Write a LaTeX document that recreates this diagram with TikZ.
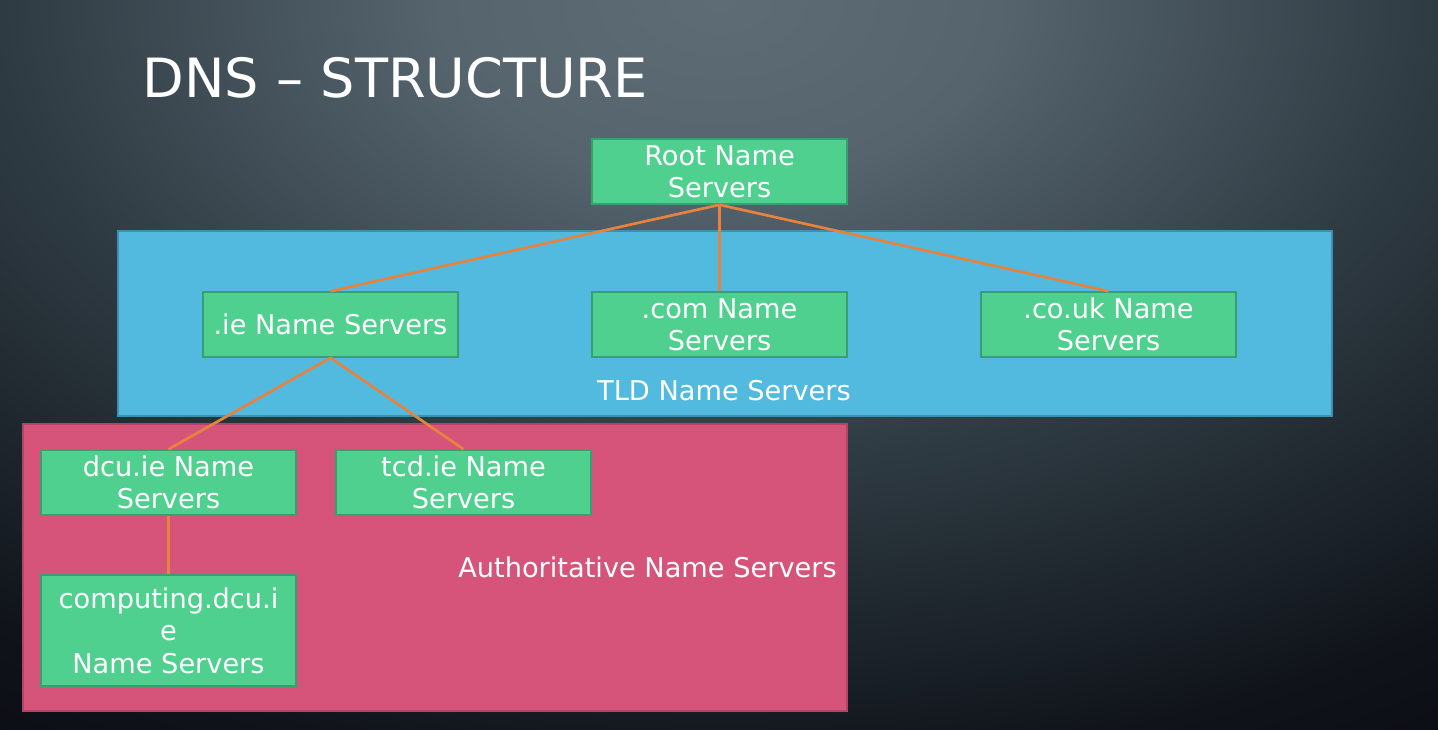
\documentclass[tikz,border=0pt]{standalone}
\usepackage{fontspec}
\setmainfont{DejaVu Sans}
\definecolor{bgA}{HTML}{5D6C75}
\definecolor{bgB}{HTML}{55646D}
\definecolor{bgC}{HTML}{2E3A42}
\definecolor{bgD}{HTML}{10141A}
\definecolor{bgE}{HTML}{0A0C12}
\definecolor{boxgreen}{HTML}{4FD08F}
\definecolor{boxgreenline}{HTML}{3A9E6E}
\definecolor{tldblue}{HTML}{53BADF}
\definecolor{tldblueline}{HTML}{3F90AE}
\definecolor{authpink}{HTML}{D65479}
\definecolor{authpinkline}{HTML}{B34466}
\definecolor{linkorange}{HTML}{E8823F}
\pgfdeclareradialshading{bgshade}{\pgfpoint{0bp}{0bp}}{color(0bp)=(bgA); color(5bp)=(bgB); color(13bp)=(bgC); color(21.5bp)=(bgD); color(25bp)=(bgE); color(50bp)=(bgE)}
\tikzset{
  server/.style={draw=boxgreenline, line width=1.2pt, fill=boxgreen, text=white,
    minimum width=191.25pt, minimum height=48.75pt, inner sep=0pt, align=center,
    font=\fontsize{20.4}{24.3}\selectfont},
  region/.style={line width=1.2pt, inner sep=0pt},
  regionlabel/.style={text=white, inner sep=0pt, font=\fontsize{20.4}{24.3}\selectfont},
  link/.style={draw=linkorange, line width=2pt},
}
\begin{document}
\begin{tikzpicture}[x=0.75pt,y=-0.75pt]
\useasboundingbox (0,0) rectangle (1438,729);
\begin{scope}
\clip (0,0) rectangle (1438,729);
\shade[shading=bgshade] (720,0) ellipse (1400 and 900);
\end{scope}
\node[anchor=base west, inner sep=0pt, text=white, font=\fontsize{40.6}{48}\selectfont] (title) at (142.5,97) {DNS – STRUCTURE};
% regions
\node[region, draw=tldblueline, fill=tldblue, minimum width=910.5pt, minimum height=138.75pt] (tld) at (725,323.5) {};
\node[region, draw=authpinkline, fill=authpink, minimum width=618pt, minimum height=215.25pt] (auth) at (435,567.5) {};
\node[regionlabel, anchor=base] (tldlabel) at (724,400) {TLD Name Servers};
\node[regionlabel, anchor=base east] (authlabel) at (837,577) {Authoritative Name Servers};
% servers
\node[server] (root) at (719.5,171.5) {Root Name\\Servers};
\node[server] (ie) at (330.5,324.5) {.ie Name Servers};
\node[server] (com) at (719.5,324.5) {.com Name\\Servers};
\node[server] (couk) at (1108.5,324.5) {.co.uk Name\\Servers};
\node[server] (dcu) at (168.5,482.5) {dcu.ie Name\\Servers};
\node[server] (tcd) at (463.5,482.5) {tcd.ie Name\\Servers};
\node[server, minimum height=83.25pt] (comp) at (168.5,630.5) {computing.dcu.i\\e\\Name Servers};
% links
\draw[link] (root.south) -- (ie.north);
\draw[link] (root.south) -- (com.north);
\draw[link] (root.south) -- (couk.north);
\draw[link] (ie.south) -- (dcu.north);
\draw[link] (ie.south) -- (tcd.north);
\draw[link] (dcu.south) -- (comp.north);
\end{tikzpicture}
\end{document}
